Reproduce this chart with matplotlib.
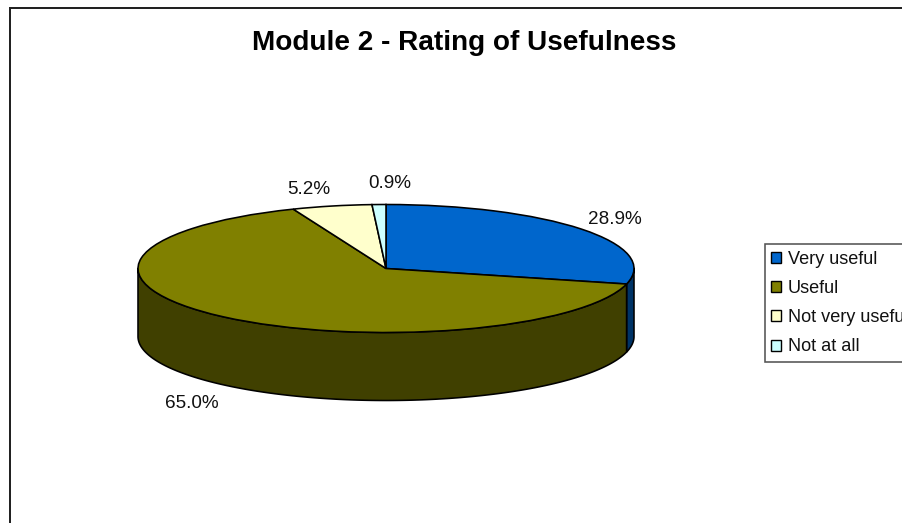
import numpy as np
import matplotlib
matplotlib.use("Agg")
import matplotlib.pyplot as plt
from matplotlib.lines import Line2D
from matplotlib.patches import Patch

categories = ["Very useful", "Useful", "Not very useful", "Not at all"]
values = [28.9, 65.0, 5.2, 0.9]
title = "Module 2 - Rating of Usefulness"

top_colors = ["#0066CC", "#808000", "#FFFFCC", "#CCFFFF"]
side_colors = ["#003366", "#404000", "#808066", "#668080"]

W, H = 902, 523
CX, CY, RX, RY, DEPTH = 386, 268.5, 248, 64, 68
plt.rcParams["font.family"] = ["Liberation Sans", "DejaVu Sans"]


def pt(p):
    return p * 72 / 100


fig = plt.figure(figsize=(W / 100, H / 100), dpi=100, facecolor="white")
ax = fig.add_axes([0, 0, 1, 1])
ax.axis("off")

# Pie, unit radius; axes limits make it an ellipse
ax.pie(values, colors=top_colors, startangle=90, counterclock=False, radius=1,
       wedgeprops=dict(edgecolor="black", linewidth=pt(1.6), zorder=5))
ax.set_aspect("auto")
ax.set_xlim(-CX / RX, (W - CX) / RX)
ax.set_ylim((CY - H) / RY, CY / RY)

# Extruded rim of the slices, from the same values
depth = DEPTH / RY
cum = np.cumsum([0] + values) / sum(values) * 360
for i, col in enumerate(side_colors):
    a0, a1 = max(cum[i], 90), min(cum[i + 1], 270)
    if a1 <= a0:
        continue
    th = np.radians(np.linspace(a0, a1, 200))
    x, y = np.sin(th), np.cos(th)
    ax.fill(np.r_[x, x[::-1]], np.r_[y, y[::-1] - depth], facecolor=col,
            edgecolor="black", linewidth=pt(1.6), zorder=3, joinstyle="round")

# Percent labels
label_px = [(614.5, 219), (192, 403), (309, 189), (390, 184)]
for v, (lx, ly) in zip(values, label_px):
    fig.text(lx / W, 1 - ly / H, f"{v:.1f}%", fontsize=13.6, ha="center", va="center",
             color="#111111")

fig.text(464 / W, 1 - 43 / H, title, fontsize=20.1, fontweight="bold", ha="center",
         va="center", color="black")

# Chart-area border (left and top edges fall inside the picture)
for xs, ys in [((9.5, 9.5), (7.5, H)), ((9.5, W), (7.5, 7.5))]:
    fig.add_artist(Line2D([x / W for x in xs], [1 - y / H for y in ys], color="#222222",
                          linewidth=pt(2)))

handles = [Patch(facecolor=c, edgecolor="black", linewidth=pt(1.4)) for c in top_colors]
leg = fig.legend(handles, categories, loc="upper left",
                 bbox_to_anchor=(764.5 / W, 1 - 244 / H), bbox_transform=fig.transFigure,
                 fontsize=13.1, frameon=True, fancybox=False, framealpha=1,
                 edgecolor="#555555", borderaxespad=0, borderpad=0.38,
                 handlelength=0.55, handleheight=0.55, handletextpad=0.35,
                 labelspacing=0.67, labelcolor="#111111")
leg.get_frame().set_linewidth(pt(1.6))

fig.savefig("out.png", dpi=100, facecolor="white")
